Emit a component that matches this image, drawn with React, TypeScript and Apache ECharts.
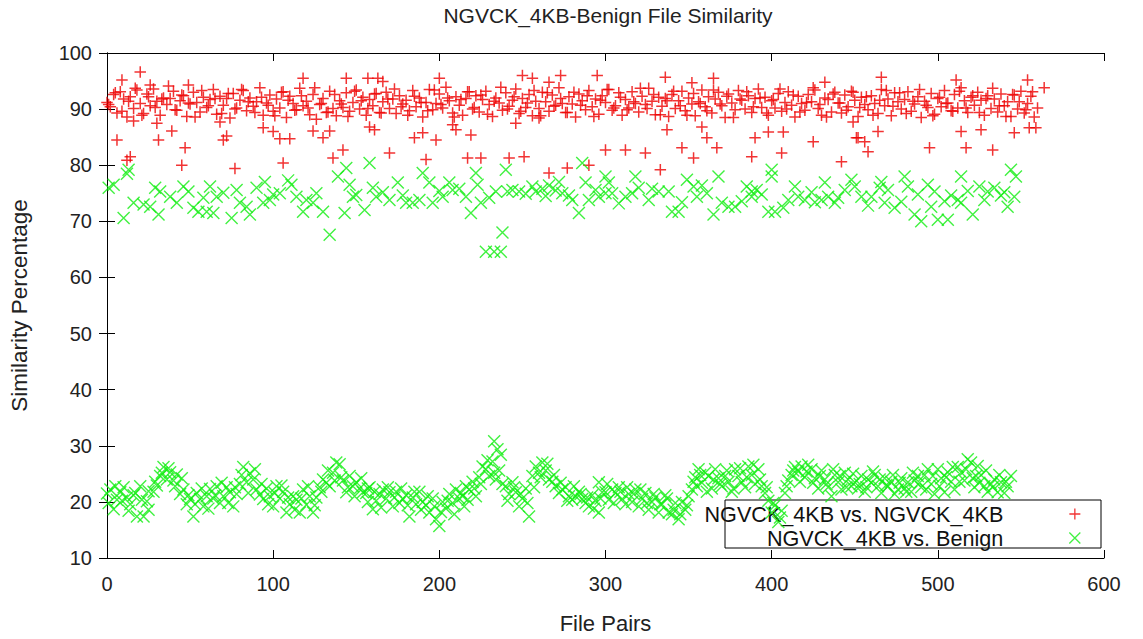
import React, { useEffect, useRef } from "react";
import * as echarts from "echarts";

const TITLE = "NGVCK_4KB-Benign File Similarity";
const X_NAME = "File Pairs";
const Y_NAME = "Similarity Percentage";
const SERIES_SAME = "NGVCK_4KB vs. NGVCK_4KB";
const SERIES_BENIGN = "NGVCK_4KB vs. Benign";

const X_MIN = 0;
const X_MAX = 600;
const X_INTERVAL = 100;
const Y_MIN = 10;
const Y_MAX = 100;
const Y_INTERVAL = 10;

// main band of NGVCK_4KB vs NGVCK_4KB, one value every RED_STEP file pairs
const RED_STEP = 2;
const redCore: number[] = [
  91.2, 90.4, 92.6, 89.3, 93.1, 91.8, 88.6, 92.2, 90.1, 93.4,
  91.0, 89.2, 92.7, 90.6, 93.6, 91.4, 88.9, 92.0, 90.8, 91.9,
  93.2, 89.8, 91.5, 92.4, 88.7, 90.9, 93.0, 91.2, 89.5, 92.1,
  90.3, 91.7, 93.5, 89.1, 92.3, 90.7, 91.9, 88.4, 92.8, 90.2,
  91.6, 93.3, 89.7, 92.0, 90.5, 91.3, 93.8, 88.9, 91.1, 92.5,
  89.6, 91.8, 90.2, 93.1, 88.5, 92.3, 91.0, 89.9, 93.7, 90.6,
  91.4, 89.0, 92.6, 88.2, 90.8, 91.9, 89.4, 93.2, 90.1, 88.8,
  91.5, 90.3, 92.9, 89.6, 91.2, 93.4, 90.0, 92.1, 88.9, 91.7,
  90.6, 92.8, 89.4, 91.3, 93.0, 90.1, 91.8, 89.2, 92.4, 90.9,
  91.6, 89.7, 93.3, 90.4, 92.0, 88.6, 91.2, 93.5, 89.9, 91.0,
  92.7, 90.2, 93.9, 91.5, 89.3, 92.2, 90.7, 88.9, 91.9, 93.1,
  90.0, 92.4, 89.5, 91.7, 93.2, 90.8, 88.7, 92.0, 91.1, 89.8,
  92.9, 90.5, 91.6, 93.6, 89.2, 91.9, 90.3, 92.6, 88.8, 91.4,
  90.1, 93.0, 91.3, 89.6, 92.5, 90.7, 93.8, 91.0, 89.4, 92.2,
  90.9, 88.6, 92.7, 91.5, 89.9, 93.3, 90.4, 91.8, 89.1, 92.4,
  91.2, 93.5, 89.8, 90.6, 92.9, 88.9, 91.7, 90.2, 93.1, 91.0,
  89.5, 92.3, 90.8, 93.7, 91.4, 89.0, 92.1, 90.5, 91.9, 88.7,
  92.6, 90.1, 91.5, 93.2, 89.7, 92.0, 90.9, 88.8, 91.3, 93.4,
  90.4, 92.2, 89.3, 91.8, 93.0, 90.6, 88.5, 92.7, 91.1, 89.9,
  93.3, 91.6, 90.0, 92.4, 89.4, 91.9, 93.6, 90.3, 92.1, 88.9,
  91.5, 90.2, 92.8, 89.6, 91.2, 93.1, 90.7, 88.6, 92.3, 91.0,
  89.8, 92.6, 91.3, 93.4, 90.1, 88.9, 92.0, 91.7, 89.5, 93.0,
  91.1, 89.3, 92.5, 90.4, 93.2, 91.6, 88.7, 92.1, 90.8, 89.9,
  92.4, 91.0, 89.2, 93.5, 90.6, 91.8, 88.8, 92.9, 91.3, 90.0,
  91.7, 93.1, 89.6, 90.9, 92.2, 88.5, 91.4, 90.3, 92.8, 89.1,
  91.9, 90.4, 93.3, 91.1, 89.7, 92.6, 90.2, 93.8, 91.5, 89.4,
  92.1, 90.7, 93.0, 91.6, 88.9, 92.4, 90.1, 91.8, 89.5, 92.7,
  90.6, 91.3, 88.7, 92.5, 90.0, 93.2, 89.3, 91.0, 92.3, 88.6,
  90.2,
];

// second pass through the main band, at file pairs RED2_START + i * RED2_STEP
const RED2_START = 1;
const RED2_STEP = 4;
const redCore2: number[] = [
  90.8, 92.9, 89.6, 91.4, 93.7, 88.9, 92.2, 90.3, 91.8, 94.1,
  89.9, 92.5, 91.1, 88.6, 93.3, 90.6, 91.9, 89.2, 92.8, 90.0,
  93.5, 91.3, 89.4, 92.1, 90.7, 88.8, 93.0, 91.6, 89.8, 92.4,
  90.2, 93.8, 91.0, 89.5, 92.6, 90.9, 88.7, 93.2, 91.5, 90.1,
  92.7, 89.3, 91.8, 93.6, 90.4, 88.9, 92.3, 91.2, 89.7, 93.4,
  90.8, 92.0, 88.6, 91.7, 93.1, 90.3, 92.5, 89.1, 91.4, 93.9,
  90.0, 92.2, 89.6, 91.1, 93.3, 88.8, 92.9, 90.5, 91.9, 89.4,
  93.0, 90.7, 92.4, 88.7, 91.6, 93.5, 90.2, 92.1, 89.9, 91.3,
  93.7, 90.1, 92.6, 89.0, 91.5, 93.2, 90.6, 88.9, 92.8, 91.0,
  89.7, 93.4, 90.9, 92.3, 88.5, 91.8, 93.1, 90.4, 92.0, 89.3,
  91.7, 93.6, 90.0, 92.5, 89.5, 91.2, 93.8, 90.8, 88.6, 92.7,
  91.1, 89.8, 93.0, 90.3, 92.2, 88.9, 91.6, 93.3, 90.5, 92.9,
  89.2, 91.4, 93.5, 90.7, 88.8, 92.1, 91.0, 89.6, 93.2, 90.2,
  92.4, 89.4, 91.9, 93.7, 90.6, 88.7, 92.6, 91.3, 89.9, 93.1,
];

// scattered NGVCK_4KB vs NGVCK_4KB pairs outside the main band: [file pair, %]
const redExtra: [number, number][] = [
  [6, 84.5], [9, 95.2], [12, 80.9], [14, 81.5], [16, 87.9], [20, 96.6], [26, 94.3], [30, 87.5],
  [31, 84.5], [39, 86.1], [45, 80.0], [47, 83.1], [49, 94.3], [68, 87.7], [70, 84.5], [72, 85.2],
  [77, 79.4], [94, 86.7], [100, 86.0], [104, 84.7], [106, 80.4], [110, 84.7], [118, 95.5], [124, 86.1],
  [130, 84.9], [134, 86.1], [136, 81.3], [142, 82.7], [144, 95.5], [157, 95.5], [158, 86.8], [161, 86.3],
  [163, 95.5], [166, 94.9], [170, 82.2], [185, 84.9], [190, 85.8], [192, 81.0], [198, 84.5], [200, 95.5],
  [208, 87.2], [210, 86.3], [217, 81.3], [219, 85.4], [225, 81.3], [242, 81.3], [246, 87.5], [250, 96.0],
  [251, 81.5], [256, 95.5], [260, 88.4], [266, 78.6], [266, 94.8], [273, 96.0], [277, 79.5], [290, 80.0],
  [295, 96.0], [300, 82.7], [312, 82.7], [324, 82.2], [333, 79.2], [336, 95.7], [337, 86.3], [346, 83.1],
  [352, 94.7], [353, 81.3], [358, 86.8], [361, 84.9], [365, 95.5], [367, 83.1], [388, 81.5], [390, 84.9],
  [398, 85.9], [406, 82.2], [407, 85.9], [425, 84.2], [432, 94.8], [442, 80.6], [449, 87.7], [451, 84.9],
  [452, 84.9], [456, 84.2], [458, 82.4], [464, 86.0], [466, 95.7], [495, 83.1], [511, 95.2], [514, 86.0],
  [517, 83.1], [526, 86.3], [533, 82.7], [546, 85.8], [554, 95.2], [555, 86.7], [559, 86.7], [564, 93.8],
];

// NGVCK_4KB vs Benign, upper cluster: [file pair, %]
const greenHigh: [number, number][] = [
  [1, 76.0], [4, 76.5], [10, 70.6], [12, 78.5], [13, 79.2], [16, 73.3], [22, 73.0], [26, 72.6],
  [29, 76.0], [31, 71.2], [32, 75.3], [38, 74.4], [42, 73.3], [46, 76.2], [49, 75.3], [52, 72.4],
  [55, 71.7], [58, 74.2], [60, 71.7], [62, 76.2], [64, 71.5], [66, 74.4], [70, 75.1], [75, 70.6],
  [78, 75.6], [80, 73.3], [84, 72.6], [86, 71.2], [90, 76.0], [94, 73.3], [95, 77.0], [98, 73.8],
  [100, 74.8], [104, 75.0], [109, 77.3], [111, 76.5], [114, 74.4], [118, 71.7], [120, 73.8], [124, 73.3],
  [126, 75.0], [130, 71.7], [134, 67.6], [139, 78.0], [143, 71.5], [144, 79.5], [146, 76.5], [148, 74.4],
  [150, 74.7], [155, 72.0], [158, 80.4], [160, 76.0], [162, 74.4], [166, 75.2], [170, 73.8], [175, 76.9],
  [178, 74.6], [180, 73.3], [184, 73.3], [188, 73.8], [190, 78.6], [194, 76.9], [196, 73.3], [200, 75.4],
  [202, 74.4], [206, 76.9], [208, 75.6], [212, 75.8], [216, 74.4], [219, 71.5], [222, 78.6], [223, 76.5],
  [225, 73.3], [228, 64.6], [230, 74.2], [233, 64.6], [234, 75.3], [237, 64.6], [238, 68.0], [240, 79.2],
  [241, 75.3], [244, 75.6], [248, 75.3], [252, 74.9], [256, 76.2], [258, 75.3], [262, 75.8], [264, 74.5],
  [266, 76.4], [270, 75.5], [272, 77.0], [274, 75.0], [278, 74.6], [280, 73.8], [284, 71.5], [286, 80.4],
  [288, 76.9], [290, 73.8], [294, 75.6], [296, 74.4], [300, 78.0], [300, 75.0], [302, 76.9], [304, 75.0],
  [308, 73.2], [312, 74.4], [316, 75.0], [318, 78.0], [320, 76.0], [326, 73.8], [328, 75.8], [332, 75.3],
  [338, 75.3], [340, 71.7], [344, 71.7], [346, 73.4], [349, 77.4], [353, 76.2], [355, 74.4], [358, 76.4],
  [361, 75.0], [365, 71.2], [368, 78.0], [370, 73.3], [374, 72.6], [378, 72.6], [382, 73.6], [385, 76.2],
  [388, 75.3], [388, 74.4], [391, 75.6], [394, 74.8], [398, 71.7], [400, 79.2], [400, 78.0], [402, 71.7],
  [407, 72.4], [410, 73.8], [414, 76.2], [416, 74.4], [420, 73.8], [424, 75.2], [426, 73.4], [430, 73.8],
  [432, 76.9], [434, 74.4], [438, 73.3], [440, 74.2], [444, 75.6], [448, 77.4], [450, 76.2], [454, 74.4],
  [458, 72.8], [460, 74.4], [465, 76.0], [466, 77.0], [468, 73.3], [470, 75.6], [474, 72.4], [478, 73.5],
  [480, 78.0], [482, 76.2], [486, 71.2], [488, 74.8], [490, 70.0], [494, 76.5], [496, 72.6], [498, 75.3],
  [500, 70.3], [504, 73.6], [506, 70.3], [508, 74.6], [512, 73.8], [514, 73.3], [514, 78.0], [518, 75.4],
  [521, 71.2], [525, 76.2], [528, 73.8], [530, 75.3], [534, 76.0], [538, 74.6], [540, 75.2], [542, 72.6],
  [544, 79.2], [546, 74.4], [547, 78.0],
];

// NGVCK_4KB vs Benign, lower cluster: [file pair, %]
const greenLow: [number, number][] = [
  [0, 21.5], [2, 22.2], [4, 18.7], [6, 20.4], [8, 21.7], [10, 22.6], [12, 20.8], [14, 19.6],
  [16, 21.2], [18, 17.4], [20, 22.8], [22, 17.4], [24, 20.1], [25, 21.9], [28, 21.8], [30, 22.9],
  [32, 24.6], [34, 26.2], [36, 24.0], [38, 25.3], [40, 23.8], [42, 24.9], [44, 21.4], [46, 22.2],
  [48, 19.6], [50, 20.5], [52, 17.4], [54, 21.6], [56, 20.5], [58, 19.2], [60, 21.0], [62, 22.3],
  [64, 20.6], [66, 22.8], [68, 19.8], [70, 21.0], [72, 22.6], [74, 21.7], [76, 19.2], [78, 21.4],
  [80, 23.2], [82, 26.2], [84, 23.5], [86, 25.1], [88, 24.0], [90, 22.2], [92, 21.3], [94, 20.5],
  [96, 22.4], [98, 21.0], [100, 19.2], [102, 22.8], [104, 20.6], [106, 21.8], [108, 18.1], [110, 19.6],
  [112, 21.0], [114, 20.4], [116, 18.1], [118, 22.2], [120, 19.5], [122, 21.0], [124, 18.1], [126, 20.8],
  [128, 22.6], [130, 24.0], [132, 23.4], [134, 22.8], [136, 25.2], [138, 27.0], [140, 26.7], [142, 23.8],
  [144, 21.7], [146, 24.6], [148, 22.8], [150, 23.5], [152, 22.4], [154, 21.7], [156, 21.6], [157, 20.0],
  [158, 22.6], [160, 18.7], [162, 20.2], [164, 21.4], [166, 22.2], [168, 20.6], [170, 21.7], [172, 19.2],
  [174, 21.8], [176, 19.8], [178, 20.5], [180, 21.2], [182, 17.4], [184, 20.8], [186, 19.6], [188, 21.8],
  [190, 20.0], [192, 19.4], [194, 18.1], [196, 20.6], [198, 16.9], [200, 15.7], [202, 20.0], [204, 18.8],
  [206, 21.4], [208, 19.8], [210, 22.2], [212, 20.6], [214, 21.0], [215, 19.2], [216, 22.8], [218, 22.2],
  [220, 23.6], [222, 21.0], [224, 24.4], [226, 26.3], [228, 25.8], [230, 24.6], [232, 27.2], [233, 30.8],
  [234, 24.0], [235, 29.4], [236, 25.6], [238, 23.2], [240, 22.8], [242, 21.4], [244, 23.5], [246, 21.7],
  [248, 19.2], [250, 20.6], [252, 22.4], [254, 17.4], [256, 24.6], [258, 26.3], [260, 25.2], [262, 27.0],
  [264, 25.6], [266, 24.0], [268, 23.6], [270, 22.8], [272, 21.6], [274, 22.2], [276, 22.6], [278, 21.0],
  [280, 20.4], [282, 21.0], [284, 21.8], [286, 20.5], [288, 19.8], [290, 19.2], [292, 21.2], [294, 20.2],
  [296, 18.1], [296, 23.5], [298, 21.7], [300, 21.7], [302, 20.4], [304, 22.2], [306, 21.6], [308, 22.6],
  [310, 20.5], [312, 19.6], [314, 21.4], [316, 20.0], [318, 22.2], [320, 19.2], [322, 20.5], [324, 21.6],
  [326, 18.6], [328, 20.0], [330, 20.8], [332, 18.1], [334, 19.6], [336, 21.2], [338, 18.1], [340, 17.8],
  [342, 19.8], [344, 16.9], [346, 20.0], [348, 18.6], [350, 21.0], [352, 22.2], [354, 24.4], [355, 22.8],
  [356, 25.8], [358, 23.4], [360, 25.2], [362, 24.6], [364, 22.4], [366, 25.8], [368, 24.2], [370, 22.8],
  [372, 24.6], [374, 23.6], [376, 21.8], [378, 25.8], [380, 24.6], [382, 23.5], [384, 22.6], [386, 26.3],
  [388, 24.8], [390, 23.2], [392, 25.8], [394, 22.8], [396, 21.6], [398, 20.2], [400, 18.1], [402, 19.4],
  [404, 16.4], [406, 18.4], [408, 21.6], [410, 23.8], [412, 24.8], [414, 26.2], [416, 25.4], [418, 26.3],
  [420, 24.4], [422, 26.6], [424, 25.8], [426, 24.2], [428, 22.4], [430, 25.6], [432, 24.0], [434, 22.6],
  [436, 21.0], [438, 24.8], [440, 23.5], [442, 22.2], [444, 25.2], [446, 24.0], [448, 22.8], [450, 23.5],
  [452, 22.4], [454, 24.6], [456, 21.8], [458, 24.0], [460, 23.4], [462, 24.8], [464, 22.8], [466, 21.6],
  [468, 24.2], [470, 22.8], [472, 23.6], [474, 21.4], [476, 22.2], [478, 24.2], [480, 22.4], [482, 23.5],
  [484, 21.8], [486, 23.8], [488, 24.6], [490, 22.6], [492, 24.8], [494, 25.8], [496, 23.2], [498, 21.4],
  [500, 25.8], [502, 24.2], [504, 21.7], [506, 25.3], [508, 23.6], [510, 22.2], [512, 26.2], [514, 25.3],
  [516, 23.8], [518, 27.6], [520, 27.0], [522, 22.6], [523, 24.6], [524, 26.4], [526, 24.8], [528, 22.8],
  [530, 21.8], [532, 23.2], [534, 24.0], [536, 21.7], [538, 23.5], [540, 21.6], [542, 22.8], [544, 24.6],
];

// more of the lower Benign cluster, at file pairs LOW2_START + i * LOW2_STEP
const LOW2_START = 1;
const LOW2_STEP = 4;
const greenLow2: number[] = [
  19.8, 22.8, 20.2, 18.4, 21.6, 20.4, 18.6, 23.6, 25.2, 26.0,
  22.8, 24.2, 21.2, 19.6, 22.4, 18.8, 21.2, 23.4, 19.8, 22.6,
  24.8, 21.6, 25.8, 23.2, 19.6, 21.6, 22.9, 20.8, 18.6, 20.6,
  22.8, 19.4, 21.8, 25.6, 23.8, 24.4, 22.6, 21.0, 24.2, 22.4,
  21.8, 19.0, 22.6, 20.8, 22.4, 19.4, 21.8, 18.6, 21.0, 19.2,
  18.2, 20.2, 17.8, 21.6, 20.4, 22.4, 23.2, 27.4, 25.2, 28.4,
  20.2, 22.6, 21.4, 19.8, 22.6, 24.4, 26.8, 24.8, 23.4, 20.2,
  22.8, 21.4, 20.8, 18.8, 20.6, 23.2, 19.8, 21.8, 22.6, 21.4,
  22.2, 19.8, 21.4, 19.6, 20.6, 18.6, 17.8, 19.4, 23.6, 24.8,
  21.8, 24.0, 23.2, 25.6, 22.4, 26.0, 24.4, 26.6, 24.0, 22.6,
  19.8, 17.2, 22.8, 25.6, 23.6, 25.4, 23.4, 24.6, 23.2, 25.8,
  24.6, 22.6, 25.0, 23.2, 22.6, 25.4, 24.0, 23.0, 24.8, 23.4,
  21.8, 25.2, 23.4, 22.2, 24.6, 22.8, 24.4, 26.2, 23.6, 25.8,
  24.2, 23.4, 25.6, 22.6, 24.8, 23.6,
];

const RED = "#ee0000";
const GREEN = "#11ee11";
const FONT = "Liberation Sans, Arial, sans-serif";
const PLUS = "path://M0,5.5 L11,5.5 M5.5,0 L5.5,11";
const CROSS = "path://M0,0 L11,11 M11,0 L0,11";
const PLUS_KEY = "path://M0,5.5 M61,5.5 L72,5.5 M66.5,0 L66.5,11";
const CROSS_KEY = "path://M0,0 M61,0 L72,11 M72,0 L61,11";

export default function App() {
  const ref = useRef<HTMLDivElement>(null);
  useEffect(() => {
    document.body.style.margin = "0";
    document.body.style.overflow = "hidden";
    if (!ref.current) return;
    const chart = echarts.init(ref.current, null, { renderer: "svg" });
    const redData = redCore
      .map((v, i) => [i * RED_STEP, v])
      .concat(redCore2.map((v, i) => [RED2_START + i * RED2_STEP, v]))
      .concat(redExtra);
    const greenData = (greenHigh as number[][])
      .concat(greenLow)
      .concat(greenLow2.map((v, i) => [LOW2_START + i * LOW2_STEP, v]));
    const axisCommon = {
      type: "value" as const,
      axisLine: { show: true, lineStyle: { color: "#000", width: 1 } },
      axisTick: { show: true, inside: true, length: 8, lineStyle: { color: "#000", width: 1 } },
      splitLine: { show: false },
    };
    chart.setOption({
      animation: false,
      backgroundColor: "#fff",
      title: {
        text: TITLE,
        left: 608,
        top: 5,
        textAlign: "center",
        padding: 0,
        textStyle: { fontFamily: FONT, fontSize: 21, fontWeight: "normal", color: "#222" },
      },
      grid: { left: 106, top: 53, width: 998, height: 506, containLabel: false },
      xAxis: [
        {
          ...axisCommon,
          position: "bottom",
          min: X_MIN,
          max: X_MAX,
          interval: X_INTERVAL,
          name: X_NAME,
          nameLocation: "middle",
          nameGap: 54,
          nameTextStyle: { fontFamily: FONT, fontSize: 22, color: "#222" },
          axisLabel: { margin: 16, fontFamily: FONT, fontSize: 20, color: "#222" },
        },
        {
          ...axisCommon,
          position: "top",
          min: X_MIN,
          max: X_MAX,
          interval: X_INTERVAL,
          axisLabel: { show: false },
        },
      ],
      yAxis: [
        {
          ...axisCommon,
          position: "left",
          min: Y_MIN,
          max: Y_MAX,
          interval: Y_INTERVAL,
          name: Y_NAME,
          nameLocation: "middle",
          nameRotate: 90,
          nameGap: 76,
          nameTextStyle: { fontFamily: FONT, fontSize: 22.5, color: "#222" },
          axisLabel: { margin: 15, fontFamily: FONT, fontSize: 20, color: "#222" },
        },
        {
          ...axisCommon,
          position: "right",
          min: Y_MIN,
          max: Y_MAX,
          interval: Y_INTERVAL,
          axisLabel: { show: false },
        },
      ],
      legend: {
        orient: "vertical",
        align: "right",
        right: 62,
        top: 502,
        padding: 0,
        itemGap: 0,
        itemWidth: 72,
        itemHeight: 11,
        z: 1,
        textStyle: { fontFamily: FONT, fontSize: 21.6, color: "#111", lineHeight: 24 },
        data: [
          {
            name: SERIES_SAME,
            icon: PLUS_KEY,
            itemStyle: { color: "transparent", borderColor: RED, borderWidth: 1.3 },
          },
          {
            name: SERIES_BENIGN,
            icon: CROSS_KEY,
            itemStyle: { color: "transparent", borderColor: GREEN, borderWidth: 1.3 },
          },
        ],
      },
      graphic: [
        {
          type: "rect",
          z: 0,
          shape: { x: 725, y: 500, width: 376, height: 48 },
          style: { fill: "none", stroke: "#000", lineWidth: 1 },
        },
      ],
      series: [
        {
          name: SERIES_SAME,
          type: "scatter",
          xAxisIndex: 0,
          yAxisIndex: 0,
          symbol: PLUS,
          symbolSize: 11.5,
          itemStyle: { color: "transparent", borderColor: RED, borderWidth: 1.5 },
          data: redData,
          z: 3,
        },
        {
          name: SERIES_BENIGN,
          type: "scatter",
          xAxisIndex: 0,
          yAxisIndex: 0,
          symbol: CROSS,
          symbolSize: 12,
          itemStyle: { color: "transparent", borderColor: GREEN, borderWidth: 1.4 },
          data: greenData,
          z: 4,
        },
      ],
    });
    return () => chart.dispose();
  }, []);
  return (
    <div
      ref={ref}
      style={{ position: "absolute", left: 0, top: 0, width: 1143, height: 639, background: "#fff" }}
    />
  );
}
